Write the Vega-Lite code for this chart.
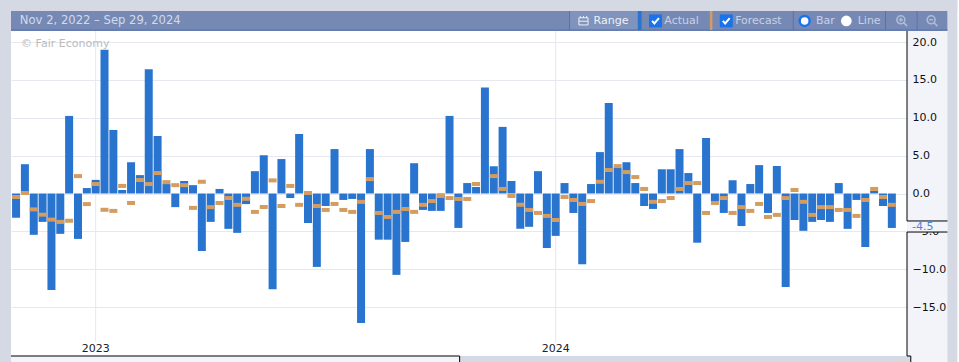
{"$schema":"https://vega.github.io/schema/vega-lite/v6.json","width":896,"height":325,"autosize":{"type":"none"},"padding":{"left":11,"top":31,"right":52,"bottom":6},"background":"#f3f4f9",
"data":{"values":[{}]},
"config":{"view":{"fill":"#ffffff","stroke":null},"axisX":{"disable":true},"text":{"font":"DejaVu Sans","fontSize":11}},
"datasets":{"weekly":[
{"date":"2022-11-02","actual":-3.2,"forecast":-0.46},{"date":"2022-11-09","actual":3.87,"forecast":0.07},{"date":"2022-11-16","actual":-5.46,"forecast":-2.1},{"date":"2022-11-23","actual":-3.75,"forecast":-2.8},{"date":"2022-11-30","actual":-12.75,"forecast":-3.45},{"date":"2022-12-07","actual":-5.33,"forecast":-3.75},{"date":"2022-12-14","actual":10.25,"forecast":-3.6},{"date":"2022-12-21","actual":-6.0,"forecast":2.3},{"date":"2022-12-28","actual":0.72,"forecast":-1.4},
{"date":"2023-01-04","actual":1.8,"forecast":1.25},{"date":"2023-01-11","actual":19.0,"forecast":-2.15},{"date":"2023-01-18","actual":8.4,"forecast":-2.3},{"date":"2023-01-25","actual":0.46,"forecast":1.0},{"date":"2023-02-01","actual":4.13,"forecast":-1.25},{"date":"2023-02-08","actual":2.43,"forecast":1.78},{"date":"2023-02-15","actual":16.4,"forecast":1.25},{"date":"2023-02-22","actual":7.6,"forecast":2.7},{"date":"2023-03-01","actual":1.25,"forecast":1.5},{"date":"2023-03-08","actual":-1.8,"forecast":1.1},{"date":"2023-03-15","actual":1.65,"forecast":1.1},{"date":"2023-03-22","actual":1.1,"forecast":-1.9},{"date":"2023-03-29","actual":-7.6,"forecast":1.55},{"date":"2023-04-05","actual":-3.75,"forecast":-1.8},{"date":"2023-04-12","actual":0.6,"forecast":-1.25},{"date":"2023-04-19","actual":-4.67,"forecast":-0.6},{"date":"2023-04-26","actual":-5.2,"forecast":-1.5},{"date":"2023-05-03","actual":-1.4,"forecast":-0.7},{"date":"2023-05-10","actual":2.95,"forecast":-2.43},{"date":"2023-05-17","actual":5.07,"forecast":-1.8},{"date":"2023-05-24","actual":-12.65,"forecast":1.73},{"date":"2023-05-31","actual":4.55,"forecast":-1.65},{"date":"2023-06-07","actual":-0.6,"forecast":1.0},{"date":"2023-06-14","actual":7.86,"forecast":-1.5},{"date":"2023-06-21","actual":-3.9,"forecast":0.07},{"date":"2023-06-28","actual":-9.7,"forecast":-1.65},{"date":"2023-07-05","actual":-1.65,"forecast":-2.17},{"date":"2023-07-12","actual":5.87,"forecast":-1.38},{"date":"2023-07-19","actual":-0.85,"forecast":-2.17},{"date":"2023-07-26","actual":-0.72,"forecast":-2.43},{"date":"2023-08-02","actual":-17.1,"forecast":-1.1},{"date":"2023-08-09","actual":5.87,"forecast":1.9},{"date":"2023-08-16","actual":-6.1,"forecast":-2.57},{"date":"2023-08-23","actual":-6.1,"forecast":-3.1},{"date":"2023-08-30","actual":-10.75,"forecast":-2.43},{"date":"2023-09-06","actual":-6.4,"forecast":-2.05},{"date":"2023-09-13","actual":4.0,"forecast":-2.43},{"date":"2023-09-20","actual":-2.17,"forecast":-1.5},{"date":"2023-09-27","actual":-2.3,"forecast":-1.0},{"date":"2023-10-04","actual":-2.3,"forecast":-0.33},{"date":"2023-10-11","actual":10.25,"forecast":-0.6},{"date":"2023-10-18","actual":-4.55,"forecast":-0.72},{"date":"2023-10-25","actual":1.38,"forecast":-0.72},{"date":"2023-11-01","actual":0.86,"forecast":1.25},{"date":"2023-11-08","actual":14.0,"forecast":null},{"date":"2023-11-15","actual":3.6,"forecast":2.3},{"date":"2023-11-22","actual":8.8,"forecast":0.6},{"date":"2023-11-29","actual":1.65,"forecast":-0.33},{"date":"2023-12-06","actual":-4.67,"forecast":-1.5},{"date":"2023-12-13","actual":-4.4,"forecast":-2.17},{"date":"2023-12-20","actual":2.95,"forecast":-2.57},{"date":"2023-12-27","actual":-7.2,"forecast":-2.96},
{"date":"2024-01-03","actual":-5.6,"forecast":-3.5},{"date":"2024-01-10","actual":1.38,"forecast":-0.46},{"date":"2024-01-17","actual":-2.57,"forecast":-0.86},{"date":"2024-01-24","actual":-9.35,"forecast":-1.38},{"date":"2024-01-31","actual":1.25,"forecast":-1.0},{"date":"2024-02-07","actual":5.47,"forecast":1.55},{"date":"2024-02-14","actual":11.95,"forecast":3.1},{"date":"2024-02-21","actual":3.4,"forecast":3.62},{"date":"2024-02-28","actual":4.13,"forecast":2.83},{"date":"2024-03-06","actual":1.38,"forecast":2.17},{"date":"2024-03-13","actual":-1.65,"forecast":0.6},{"date":"2024-03-20","actual":-2.04,"forecast":-1.1},{"date":"2024-03-27","actual":3.2,"forecast":-1.0},{"date":"2024-04-03","actual":3.2,"forecast":-0.6},{"date":"2024-04-10","actual":5.87,"forecast":0.6},{"date":"2024-04-17","actual":2.7,"forecast":1.38},{"date":"2024-04-24","actual":-6.5,"forecast":1.38},{"date":"2024-05-01","actual":7.33,"forecast":-2.57},{"date":"2024-05-08","actual":-1.0,"forecast":-1.25},{"date":"2024-05-15","actual":-2.57,"forecast":-0.6},{"date":"2024-05-22","actual":1.75,"forecast":-2.57},{"date":"2024-05-29","actual":-4.3,"forecast":-1.8},{"date":"2024-06-05","actual":1.25,"forecast":-2.3},{"date":"2024-06-12","actual":3.75,"forecast":-1.38},{"date":"2024-06-19","actual":-2.57,"forecast":-3.1},{"date":"2024-06-26","actual":3.63,"forecast":-2.83},{"date":"2024-07-03","actual":-12.35,"forecast":-0.6},{"date":"2024-07-10","actual":-3.5,"forecast":0.46},{"date":"2024-07-17","actual":-4.93,"forecast":-1.1},{"date":"2024-07-24","actual":-3.75,"forecast":-2.83},{"date":"2024-07-31","actual":-3.5,"forecast":-1.8},{"date":"2024-08-07","actual":-3.75,"forecast":-1.8},{"date":"2024-08-14","actual":1.38,"forecast":-2.17},{"date":"2024-08-21","actual":-4.67,"forecast":-2.17},{"date":"2024-08-28","actual":-0.85,"forecast":-2.96},{"date":"2024-09-04","actual":-7.07,"forecast":-0.86},{"date":"2024-09-11","actual":0.33,"forecast":0.6},{"date":"2024-09-18","actual":-1.65,"forecast":-0.46},{"date":"2024-09-25","actual":-4.55,"forecast":-1.5}],
"years":[{"date":"2023-01-04","label":"2023"},{"date":"2024-01-03","label":"2024"}]},
"layer":[
{"data":{"name":"years"},"mark":{"type":"rule","color":"#e6e8f0","strokeWidth":1},"encoding":{"x":{"field":"date","type":"temporal","scale":{"domain":["2022-10-29","2024-10-07"],"padding":0}},"y":{"datum":21.47,"type":"quantitative","scale":{"domain":[-21.47,21.47],"nice":false,"zero":false},"axis":{"title":null,"orient":"right","values":[20,15,10,5,0,-5,-10,-15],"format":".1f","grid":true,"gridColor":"#e6e8f0","domain":false,"ticks":false,"labelPadding":5,"labelFont":"DejaVu Sans","labelFontSize":11,"labelColor":"#111111","labelOverlap":false,"labelBound":false,"labelFlush":false}},"y2":{"datum":-19.62}}},
{"data":{"name":"weekly"},"mark":{"type":"bar","color":"#2874cf","width":8},"encoding":{"x":{"field":"date","type":"temporal"},"y":{"field":"actual","type":"quantitative"},"y2":{"datum":0}}},
{"data":{"name":"weekly"},"mark":{"type":"tick","color":"#d49c5e","orient":"horizontal","size":8,"thickness":4,"opacity":1},"encoding":{"x":{"field":"date","type":"temporal"},"y":{"field":"forecast","type":"quantitative"}}},
{"data":{"name":"years"},"mark":{"type":"text","color":"#222222","align":"center","baseline":"middle"},"encoding":{"x":{"field":"date","type":"temporal"},"y":{"datum":-20.54,"type":"quantitative"},"text":{"field":"label"}}},
{"mark":{"type":"text","color":"#bbbbbb","align":"left","baseline":"middle","text":"© Fair Economy"},"encoding":{"x":{"datum":{"year":2022,"month":11,"date":6},"type":"temporal"},"y":{"datum":19.75,"type":"quantitative"}}},

{"mark":{"type":"rect","color":"#d5d9e3"},"encoding":{"x":{"datum":{"year":2022,"month":10,"date":20},"type":"temporal"},"x2":{"datum":{"year":2022,"month":10,"date":29}},"y":{"datum":25.6,"type":"quantitative"},"y2":{"datum":-22.3}}},
{"mark":{"type":"rect","color":"#d5d9e3"},"encoding":{"x":{"datum":{"year":2022,"month":10,"date":20},"type":"temporal"},"x2":{"datum":{"year":2024,"month":11,"date":30}},"y":{"datum":25.6,"type":"quantitative"},"y2":{"datum":24.11}}},
{"mark":{"type":"rect","color":"#d5d9e3"},"encoding":{"x":{"datum":{"year":2024,"month":11,"date":8},"type":"temporal"},"x2":{"datum":{"year":2024,"month":11,"date":16}},"y":{"datum":25.6,"type":"quantitative"},"y2":{"datum":-22.3}}},
{"mark":{"type":"rect","color":"#ffffff"},"encoding":{"x":{"datum":{"year":2024,"month":11,"date":16},"type":"temporal"},"x2":{"datum":{"year":2024,"month":11,"date":30}},"y":{"datum":25.6,"type":"quantitative"},"y2":{"datum":-22.3}}},
{"mark":{"type":"rect","color":"#d5d9e3"},"encoding":{"x":{"datum":{"year":2023,"month":10,"date":19},"type":"temporal"},"x2":{"datum":{"year":2024,"month":10,"date":10}},"y":{"datum":-21.47,"type":"quantitative"},"y2":{"datum":-22.3}}},

{"mark":{"type":"rect","color":"#7689b5"},"encoding":{"x":{"datum":{"year":2022,"month":10,"date":29},"type":"temporal"},"x2":{"datum":{"year":2024,"month":11,"date":8}},"y":{"datum":24.11,"type":"quantitative"},"y2":{"datum":21.47}}},
{"mark":{"type":"rect","color":"#8093bd"},"encoding":{"x":{"datum":{"year":2024,"month":1,"date":14},"type":"temporal"},"x2":{"datum":{"year":2024,"month":3,"date":8}},"y":{"datum":24.11,"type":"quantitative"},"y2":{"datum":21.65}}},
{"mark":{"type":"rule","color":"#5573ad"},"encoding":{"x":{"datum":{"year":2022,"month":10,"date":29},"type":"temporal"},"x2":{"datum":{"year":2024,"month":11,"date":8}},"y":{"datum":21.6,"type":"quantitative"}}},
{"mark":{"type":"rule","color":"#5573ad"},"encoding":{"x":{"datum":{"year":2024,"month":1,"date":14},"type":"temporal"},"y":{"datum":24.11,"type":"quantitative"},"y2":{"datum":21.6}}},
{"mark":{"type":"rule","color":"#5573ad"},"encoding":{"x":{"datum":{"year":2024,"month":7,"date":9},"type":"temporal"},"y":{"datum":24.11,"type":"quantitative"},"y2":{"datum":21.6}}},
{"mark":{"type":"rule","color":"#5573ad"},"encoding":{"x":{"datum":{"year":2024,"month":9,"date":20},"type":"temporal"},"y":{"datum":24.11,"type":"quantitative"},"y2":{"datum":21.6}}},
{"mark":{"type":"rule","color":"#5573ad"},"encoding":{"x":{"datum":{"year":2024,"month":10,"date":15},"type":"temporal"},"y":{"datum":24.11,"type":"quantitative"},"y2":{"datum":21.6}}},
{"mark":{"type":"rect","color":"#2874cf"},"encoding":{"x":{"datum":{"year":2024,"month":3,"date":8},"type":"temporal"},"x2":{"datum":{"year":2024,"month":3,"date":11}},"y":{"datum":24.11,"type":"quantitative"},"y2":{"datum":21.6}}},
{"mark":{"type":"rect","color":"#d49c5e"},"encoding":{"x":{"datum":{"year":2024,"month":5,"date":4},"type":"temporal"},"x2":{"datum":{"year":2024,"month":5,"date":6}},"y":{"datum":24.11,"type":"quantitative"},"y2":{"datum":21.6}}},

{"mark":{"type":"text","color":"#d3daea","align":"left","baseline":"middle","fontSize":11.6,"text":"Nov 2, 2022 – Sep 29, 2024"},"encoding":{"x":{"datum":{"year":2022,"month":11,"date":5},"type":"temporal"},"y":{"datum":22.8,"type":"quantitative"}}},
{"mark":{"type":"text","color":"#eef1f7","align":"left","baseline":"middle","text":"Range"},"encoding":{"x":{"datum":{"year":2024,"month":2,"date":2},"type":"temporal"},"y":{"datum":22.8,"type":"quantitative"}}},
{"mark":{"type":"text","color":"#c8d1e6","align":"left","baseline":"middle","text":"Actual"},"encoding":{"x":{"datum":{"year":2024,"month":3,"date":29},"type":"temporal"},"y":{"datum":22.8,"type":"quantitative"}}},
{"mark":{"type":"text","color":"#c8d1e6","align":"left","baseline":"middle","text":"Forecast"},"encoding":{"x":{"datum":{"year":2024,"month":5,"date":24},"type":"temporal"},"y":{"datum":22.8,"type":"quantitative"}}},
{"mark":{"type":"text","color":"#c8d1e6","align":"left","baseline":"middle","text":"Bar"},"encoding":{"x":{"datum":{"year":2024,"month":7,"date":27},"type":"temporal"},"y":{"datum":22.8,"type":"quantitative"}}},
{"mark":{"type":"text","color":"#c8d1e6","align":"left","baseline":"middle","text":"Line"},"encoding":{"x":{"datum":{"year":2024,"month":8,"date":29},"type":"temporal"},"y":{"datum":22.8,"type":"quantitative"}}},

{"mark":{"type":"point","filled":true,"shape":"square","size":169,"color":"#1a73e8","opacity":1},"encoding":{"x":{"datum":{"year":2024,"month":3,"date":22},"type":"temporal"},"y":{"datum":22.8,"type":"quantitative"}}},
{"mark":{"type":"point","filled":true,"shape":"square","size":169,"color":"#1a73e8","opacity":1},"encoding":{"x":{"datum":{"year":2024,"month":5,"date":17},"type":"temporal"},"y":{"datum":22.8,"type":"quantitative"}}},
{"mark":{"type":"point","filled":false,"shape":"M-.6,0 L-.2,.45 L.6,-.5","size":130,"color":"#ffffff","strokeWidth":2,"opacity":1},"encoding":{"x":{"datum":{"year":2024,"month":3,"date":22},"type":"temporal"},"y":{"datum":22.8,"type":"quantitative"}}},
{"mark":{"type":"point","filled":false,"shape":"M-.6,0 L-.2,.45 L.6,-.5","size":130,"color":"#ffffff","strokeWidth":2,"opacity":1},"encoding":{"x":{"datum":{"year":2024,"month":5,"date":17},"type":"temporal"},"y":{"datum":22.8,"type":"quantitative"}}},
{"mark":{"type":"point","shape":"circle","size":100,"fill":"#ffffff","stroke":"#1a73e8","strokeWidth":2.5,"opacity":1},"encoding":{"x":{"datum":{"year":2024,"month":7,"date":18},"type":"temporal"},"y":{"datum":22.8,"type":"quantitative"}}},
{"mark":{"type":"point","filled":true,"shape":"circle","size":115,"color":"#ffffff","opacity":1},"encoding":{"x":{"datum":{"year":2024,"month":8,"date":20},"type":"temporal"},"y":{"datum":22.8,"type":"quantitative"}}},
{"mark":{"type":"point","filled":false,"shape":"M-.8,-.55 H.8 V.7 H-.8 Z M-.8,.05 H.8 M-.55,-.55 V-.85 M0,-.55 V-.85 M.55,-.55 V-.85","size":130,"color":"#eef1f7","strokeWidth":1,"opacity":1},"encoding":{"x":{"datum":{"year":2024,"month":1,"date":25},"type":"temporal"},"y":{"datum":22.8,"type":"quantitative"}}},
{"mark":{"type":"point","filled":false,"shape":"M.5,-.2 A.7,.7 0 1 1 -.9,-.2 A.7,.7 0 1 1 .5,-.2 Z M.3,.3 L.9,.9 M-.55,-.2 H.15 M-.2,-.55 V.15","size":130,"color":"#aebbd6","strokeWidth":1.6,"opacity":1},"encoding":{"x":{"datum":{"year":2024,"month":10,"date":3},"type":"temporal"},"y":{"datum":22.8,"type":"quantitative"}}},
{"mark":{"type":"point","filled":false,"shape":"M.5,-.2 A.7,.7 0 1 1 -.9,-.2 A.7,.7 0 1 1 .5,-.2 Z M.3,.3 L.9,.9 M-.55,-.2 H.15","size":130,"color":"#aebbd6","strokeWidth":1.6,"opacity":1},"encoding":{"x":{"datum":{"year":2024,"month":10,"date":27},"type":"temporal"},"y":{"datum":22.8,"type":"quantitative"}}},

{"mark":{"type":"rect","color":"#f3f4f9"},"encoding":{"x":{"datum":{"year":2024,"month":10,"date":7},"type":"temporal"},"x2":{"datum":{"year":2024,"month":11,"date":8}},"y":{"datum":-3.63,"type":"quantitative"},"y2":{"datum":-5.09}}},
{"mark":{"type":"text","color":"#4a86d8","align":"left","baseline":"middle","text":"-4.5"},"encoding":{"x":{"datum":{"year":2024,"month":10,"date":11},"type":"temporal"},"y":{"datum":-4.43,"type":"quantitative"}}},
{"mark":{"type":"rule","color":"#000000"},"encoding":{"x":{"datum":{"year":2024,"month":10,"date":7},"type":"temporal"},"y":{"datum":21.47,"type":"quantitative"},"y2":{"datum":-3.63}}},
{"mark":{"type":"rule","color":"#000000"},"encoding":{"x":{"datum":{"year":2024,"month":10,"date":7},"type":"temporal"},"y":{"datum":-5.09,"type":"quantitative"},"y2":{"datum":-21.47}}},
{"mark":{"type":"rule","color":"#000000"},"encoding":{"x":{"datum":{"year":2024,"month":10,"date":7},"type":"temporal"},"x2":{"datum":{"year":2024,"month":11,"date":8}},"y":{"datum":-3.63,"type":"quantitative"}}},
{"mark":{"type":"rule","color":"#000000"},"encoding":{"x":{"datum":{"year":2024,"month":10,"date":7},"type":"temporal"},"x2":{"datum":{"year":2024,"month":11,"date":8}},"y":{"datum":-5.09,"type":"quantitative"}}},
{"mark":{"type":"rule","color":"#000000"},"encoding":{"x":{"datum":{"year":2024,"month":10,"date":7},"type":"temporal"},"x2":{"datum":{"year":2024,"month":10,"date":10}},"y":{"datum":-21.47,"type":"quantitative"}}},
{"mark":{"type":"rule","color":"#000000"},"encoding":{"x":{"datum":{"year":2024,"month":10,"date":10},"type":"temporal"},"y":{"datum":-21.47,"type":"quantitative"},"y2":{"datum":-22.3}}},
{"mark":{"type":"rule","color":"#000000"},"encoding":{"x":{"datum":{"year":2022,"month":10,"date":29},"type":"temporal"},"x2":{"datum":{"year":2023,"month":10,"date":19}},"y":{"datum":-21.47,"type":"quantitative"}}},
{"mark":{"type":"rule","color":"#000000"},"encoding":{"x":{"datum":{"year":2023,"month":10,"date":19},"type":"temporal"},"y":{"datum":-21.47,"type":"quantitative"},"y2":{"datum":-22.3}}}
]}
